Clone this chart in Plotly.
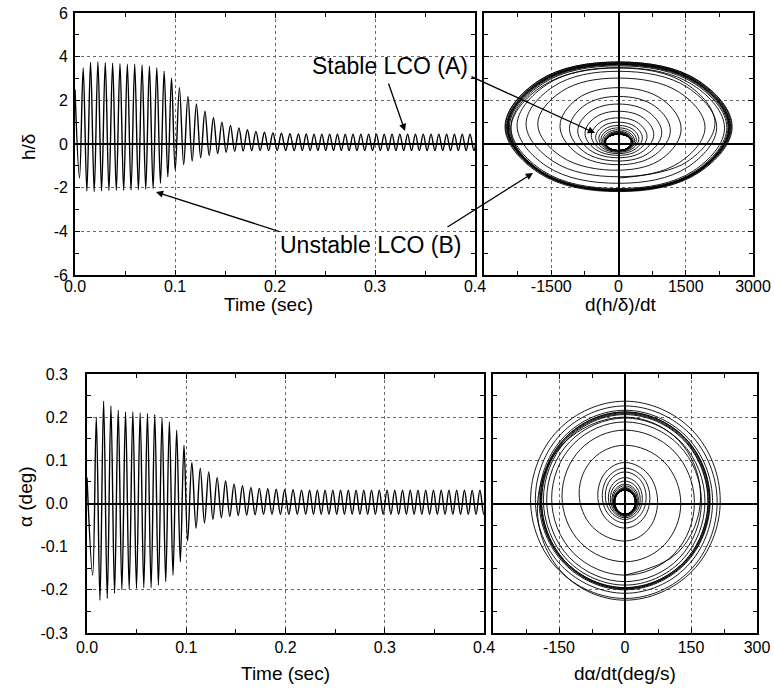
import numpy as np
import plotly.graph_objects as go

# ---------------- data ----------------
# timing of successive extrema (half periods, seconds)
half_period_early = 0.00368
half_period_mid = 0.00425
half_period_late = 0.0039
t_mid_start = 0.099
t_late_start = 0.22

# plunge h/delta : value at t=0, time of first extremum (a trough), troughs, peaks
h_start = 2.50
h_first_t = 0.0045
h_troughs = [-1.56, -2.15, -2.18, -2.14, -2.13, -2.12, -2.12, -2.11, -2.10, -2.08,
             -2.04, -1.80, -1.50, -1.20, -0.95, -0.78, -0.63, -0.52, -0.44, -0.38,
             -0.34, -0.32, -0.31, -0.30, -0.30, -0.30, -0.30, -0.30, -0.30, -0.30,
             -0.30, -0.30, -0.30, -0.30, -0.30, -0.30, -0.30, -0.30, -0.30, -0.30,
             -0.30, -0.30, -0.30, -0.30, -0.30, -0.30, -0.30, -0.30, -0.30, -0.30,
             -0.30, -0.30]
h_peaks = [3.48, 3.75, 3.76, 3.72, 3.70, 3.68, 3.66, 3.65, 3.62, 3.58,
           3.50, 3.33, 3.02, 2.58, 2.18, 1.83, 1.50, 1.20, 1.00, 0.85,
           0.74, 0.65, 0.58, 0.54, 0.51, 0.49, 0.47, 0.46, 0.46, 0.45,
           0.45, 0.45, 0.45, 0.45, 0.45, 0.45, 0.45, 0.45, 0.45, 0.45,
           0.45, 0.45, 0.45, 0.45, 0.45, 0.45, 0.45, 0.45, 0.45, 0.45,
           0.45, 0.45]
# peak rate / (half-cosine rate)
h_rate_scale = 1.0

# pitch alpha (deg)
a_start = 0.06
a_first_t = 0.0057
a_troughs = [-0.166, -0.224, -0.220, -0.208, -0.200, -0.198, -0.197, -0.195, -0.195, -0.189,
             -0.181, -0.166, -0.135, -0.087, -0.057, -0.045, -0.037, -0.033, -0.030, -0.028,
             -0.027, -0.026, -0.025, -0.025, -0.025, -0.025, -0.025, -0.025, -0.025, -0.025,
             -0.025, -0.025, -0.025, -0.025, -0.025, -0.025, -0.025, -0.025, -0.025, -0.025,
             -0.025, -0.025, -0.025, -0.025, -0.025, -0.025, -0.025, -0.025, -0.025, -0.025,
             -0.025, -0.025]
a_peaks = [0.200, 0.237, 0.226, 0.216, 0.212, 0.212, 0.210, 0.208, 0.206, 0.198,
           0.189, 0.170, 0.135, 0.095, 0.082, 0.073, 0.060, 0.052, 0.045, 0.041,
           0.037, 0.035, 0.034, 0.033, 0.032, 0.032, 0.031, 0.031, 0.031, 0.031,
           0.031, 0.031, 0.031, 0.031, 0.031, 0.031, 0.031, 0.031, 0.031, 0.031,
           0.031, 0.031, 0.031, 0.031, 0.031, 0.031, 0.031, 0.031, 0.031, 0.031,
           0.031, 0.031]
a_rate_scale = 1.1

# tick labels
time_ticks = [0.0, 0.1, 0.2, 0.3, 0.4]
time_labels = ["0.0", "0.1", "0.2", "0.3", "0.4"]
h_ticks = [6, 4, 2, 0, -2, -4, -6]
h_labels = ["6", "4", "2", "0", "-2", "-4", "-6"]
hdot_ticks = [-1500, 0, 1500, 3000]
hdot_labels = ["-1500", "0", "1500", "3000"]
a_ticks = [0.3, 0.2, 0.1, 0.0, -0.1, -0.2, -0.3]
a_labels = ["0.3", "0.2", "0.1", "0.0", "-0.1", "-0.2", "-0.3"]
adot_ticks = [-150, 0, 150, 300]
adot_labels = ["-150", "0", "150", "300"]

# phase angles sampled within each half cycle for the phase portraits
phase_angles_deg = [0, 45, 90, 135]


def extrema_series(first_t, troughs, peaks):
    vals = []
    for tr, pk in zip(troughs, peaks):
        vals += [tr, pk]
    times = []
    t = first_t
    for _ in vals:
        times.append(t)
        if t < t_mid_start:
            t += half_period_early
        elif t < t_late_start:
            t += half_period_mid
        else:
            t += half_period_late
    return times, vals


def phase_points(times, vals, rate_scale):
    """(d/dt, value) of a half-cosine swing between successive extrema."""
    xs, ys = [], []
    for i in range(len(vals) - 1):
        dt = times[i + 1] - times[i]
        mid = 0.5 * (vals[i] + vals[i + 1])
        amp = 0.5 * (vals[i] - vals[i + 1])
        vmax = rate_scale * np.pi * (vals[i + 1] - vals[i]) / (2 * dt)
        for ang in phase_angles_deg:
            th = np.radians(ang)
            xs.append(vmax * np.sin(th))
            ys.append(mid + amp * np.cos(th))
    xs.append(0.0)
    ys.append(vals[-1])
    return xs, ys


h_t, h_v = extrema_series(h_first_t, h_troughs, h_peaks)
a_t, a_v = extrema_series(a_first_t, a_troughs, a_peaks)
hx, hy = phase_points(h_t, h_v, h_rate_scale)
ax_, ay_ = phase_points(a_t, a_v, a_rate_scale)

W, H = 774, 693


def px(x):
    return x / W


def py(y):
    return 1 - y / H


FONT = "Liberation Sans, Arial, Helvetica, sans-serif"

fig = go.Figure()
line_ts = dict(color="black", width=1.4, shape="spline", smoothing=1)
line_ph = dict(color="black", width=0.9, shape="spline", smoothing=1.1)
fig.add_trace(go.Scatter(x=[0.0] + h_t, y=[h_start] + h_v, mode="lines", line=line_ts,
                         xaxis="x", yaxis="y", showlegend=False, hoverinfo="skip"))
fig.add_trace(go.Scatter(x=hx, y=hy, mode="lines", line=line_ph,
                         xaxis="x2", yaxis="y2", showlegend=False, hoverinfo="skip"))
fig.add_trace(go.Scatter(x=[0.0] + a_t, y=[a_start] + a_v, mode="lines", line=line_ts,
                         xaxis="x3", yaxis="y3", showlegend=False, hoverinfo="skip"))
fig.add_trace(go.Scatter(x=ax_, y=ay_, mode="lines", line=line_ph,
                         xaxis="x4", yaxis="y4", showlegend=False, hoverinfo="skip"))

base = dict(showline=True, linecolor="black", linewidth=1.6, mirror="ticks",
            ticks="inside", ticklen=5, tickwidth=1, tickcolor="black",
            showgrid=True, gridcolor="#6a6a6a", griddash="dot", gridwidth=1,
            zeroline=False, tickmode="array", automargin=False,
            tickfont=dict(family=FONT, size=16, color="black"))


def axis(domain, rng, tv, tt, minor_dtick, minor_tick0, showlabels=True, zero=False, anchor=None, standoff=4):
    d = dict(base)
    d.update(domain=domain, range=rng, tickvals=tv, ticktext=tt, showticklabels=showlabels,
             ticklabelstandoff=standoff,
             minor=dict(tickmode="linear", tick0=minor_tick0, dtick=minor_dtick, ticks="inside",
                        ticklen=4, tickcolor="black", tickwidth=1, showgrid=False))
    if zero:
        d.update(zeroline=True, zerolinecolor="black", zerolinewidth=1.8)
    if anchor:
        d["anchor"] = anchor
    return d


dom_tl_x = [px(75), px(475)]
dom_tr_x = [px(484), px(753)]
dom_t_y = [py(275), py(13)]
dom_bl_x = [px(87), px(484)]
dom_br_x = [px(493), px(757)]
dom_b_y = [py(633), py(374)]

fig.update_layout(
    width=W, height=H, margin=dict(l=0, r=0, t=0, b=0, autoexpand=False),
    paper_bgcolor="white", plot_bgcolor="white", showlegend=False,
    xaxis=axis(dom_tl_x, [0, 0.4], time_ticks, time_labels, 0.05, 0, anchor="y", standoff=-4),
    yaxis=axis(dom_t_y, [-6, 6], h_ticks, h_labels, 1, 0, zero=True, anchor="x", standoff=2),
    xaxis2=axis(dom_tr_x, [-3000, 3000], hdot_ticks, hdot_labels, 750, 0, zero=True, anchor="y2", standoff=-4),
    yaxis2=axis(dom_t_y, [-6, 6], h_ticks, h_labels, 1, 0, showlabels=False, zero=True, anchor="x2"),
    xaxis3=axis(dom_bl_x, [0, 0.4], time_ticks, time_labels, 0.05, 0, anchor="y3", standoff=-1),
    yaxis3=axis(dom_b_y, [-0.3, 0.3], a_ticks, a_labels, 0.05, 0, zero=True, anchor="x3", standoff=14),
    xaxis4=axis(dom_br_x, [-300, 300], adot_ticks, adot_labels, 75, 0, zero=True, anchor="y4", standoff=-1),
    yaxis4=axis(dom_b_y, [-0.3, 0.3], a_ticks, a_labels, 0.05, 0, showlabels=False, zero=True, anchor="x4"),
)

ann = []


def label(text, x, y, size=18, angle=0):
    ann.append(dict(text=text, x=px(x), y=py(y), xref="paper", yref="paper", showarrow=False,
                    xanchor="center", yanchor="middle", textangle=angle,
                    font=dict(family=FONT, size=size, color="black")))


def arrow(hx_, hy_, tx, ty):
    ann.append(dict(text="", x=px(hx_), y=py(hy_), xref="paper", yref="paper", showarrow=True,
                    ax=tx - hx_, ay=ty - hy_, axref="pixel", ayref="pixel",
                    arrowhead=2, arrowsize=1.1, arrowwidth=1.3, arrowcolor="black",
                    standoff=0, startstandoff=0))


label("h/δ", 28, 147, 19, -90)
label("α (deg)", 26, 497, 19, -90)
label("Time (sec)", 268, 304, 19)
label("d(h/δ)/dt", 620, 304, 19)
label("Time (sec)", 285, 673, 19)
label("dα/dt(deg/s)", 625, 673, 19)
label("Stable LCO (A)", 390, 66, 23)
label("Unstable LCO (B)", 371, 245, 23)
arrow(405, 131, 388, 82)
arrow(595, 133, 470, 76)
arrow(156, 192, 281, 232)
arrow(533, 173, 446, 228)

fig.update_layout(annotations=ann)
fig.write_html("out.html")
